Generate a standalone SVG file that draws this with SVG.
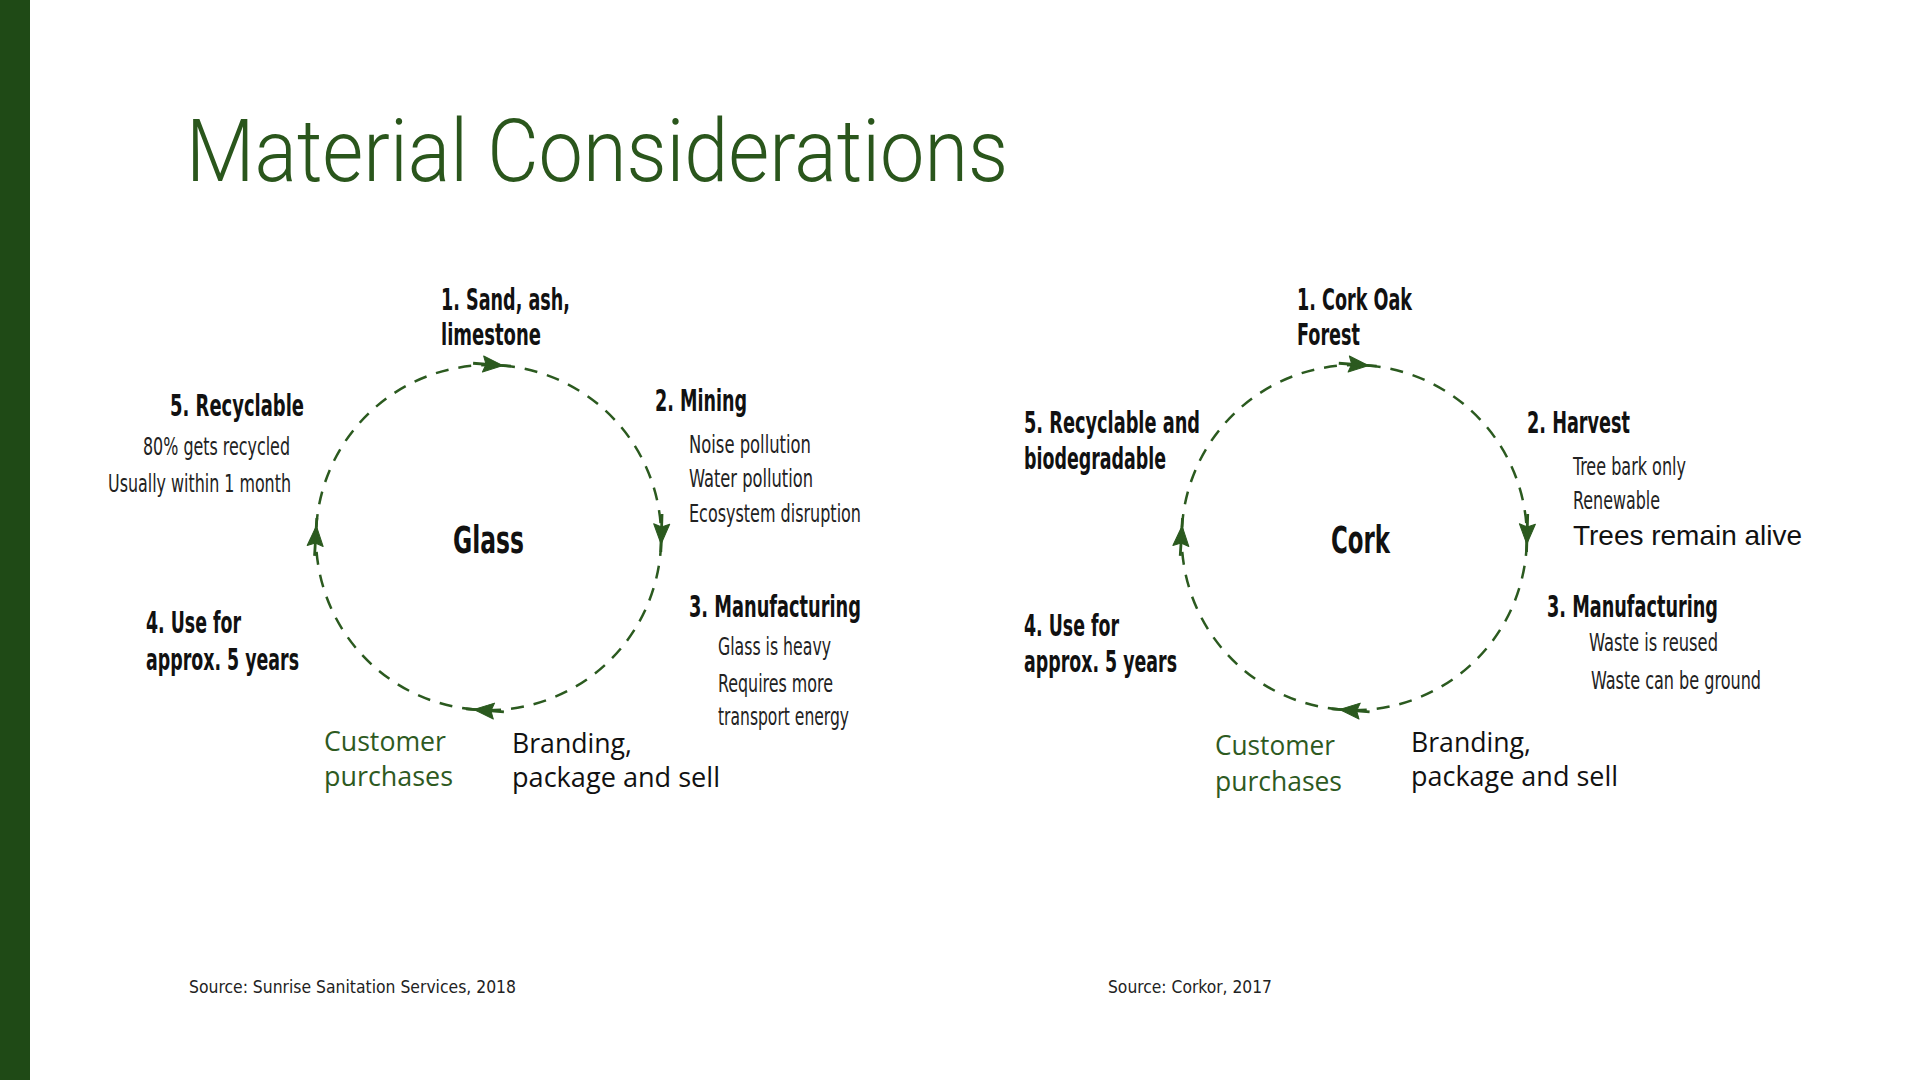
<svg xmlns="http://www.w3.org/2000/svg" width="1920" height="1080" viewBox="0 0 1920 1080">
<style>
.title{font-family:Roboto,"Liberation Sans",sans-serif;font-weight:300;font-size:88px;fill:#2a561c}
.b{font-family:"DejaVu Sans Condensed","Liberation Sans",sans-serif;font-weight:bold;font-size:30px;fill:#111}
.l{font-family:"DejaVu Sans Condensed","Liberation Sans",sans-serif;font-weight:300;font-size:25px;fill:#222}
.c{font-family:"DejaVu Sans Condensed","Liberation Sans",sans-serif;font-weight:bold;font-size:37px;fill:#111}
.g{font-family:"Open Sans","Liberation Sans",sans-serif;font-size:27px;fill:#2e5a1f}
.k{font-family:"Open Sans","Liberation Sans",sans-serif;font-size:27px;fill:#111}
.r{font-family:"Liberation Sans",Arial,sans-serif;font-size:28px;fill:#111}
.s{font-family:"DejaVu Sans Condensed","Liberation Sans",sans-serif;font-size:17px;fill:#222}
.arc{fill:none;stroke:#2b5a1f;stroke-width:2.5;stroke-dasharray:13 10;marker-end:url(#ah)}
</style>
<defs>
<marker id="ah" markerUnits="userSpaceOnUse" viewBox="0 0 22 18" markerWidth="22" markerHeight="18" refX="19" refY="9" orient="auto" overflow="visible">
<path d="M0,1 L20,9 L0,17 L3,9 Z" fill="#2b5a1f" stroke="#2b5a1f" stroke-width="1" stroke-linejoin="round"/>
<path d="M-10,9 L28,9" stroke="#2b5a1f" stroke-width="2.8"/>
</marker>
</defs>
<rect width="1920" height="1080" fill="#fff"/>
<rect x="0" y="0" width="30" height="1080" fill="#1f4a16"/>
<text class="title" x="186" y="181" textLength="822" lengthAdjust="spacingAndGlyphs">Material Considerations</text>

<g id="connectors">
<g id="glass-cycle">
<path class="arc" d="M316.3,527 A172.6,172.6 0 0 1 502,365.5"/>
<path class="arc" d="M502,365.5 A172.6,172.6 0 0 1 661.1,543"/>
<path class="arc" d="M661.1,543 A172.6,172.6 0 0 1 475,709.6"/>
<path class="arc" d="M475,709.6 A172.6,172.6 0 0 1 316.3,527"/>
</g>
<g id="cork-cycle" transform="translate(865.7,0)">
<path class="arc" d="M316.3,527 A172.6,172.6 0 0 1 502,365.5"/>
<path class="arc" d="M502,365.5 A172.6,172.6 0 0 1 661.1,543"/>
<path class="arc" d="M661.1,543 A172.6,172.6 0 0 1 475,709.6"/>
<path class="arc" d="M475,709.6 A172.6,172.6 0 0 1 316.3,527"/>
</g>
</g>

<g id="glass">
<g id="glass-center"><text class="c" x="453" y="553" textLength="71" lengthAdjust="spacingAndGlyphs">Glass</text></g>
<g id="glass-1">
<text class="b" x="441" y="310" textLength="129" lengthAdjust="spacingAndGlyphs">1. Sand, ash,</text>
<text class="b" x="441" y="345" textLength="100" lengthAdjust="spacingAndGlyphs">limestone</text>
</g>
<g id="glass-2">
<text class="b" x="655" y="411" textLength="92" lengthAdjust="spacingAndGlyphs">2. Mining</text>
<text class="l" x="689" y="453" textLength="122" lengthAdjust="spacingAndGlyphs">Noise pollution</text>
<text class="l" x="689" y="487" textLength="124" lengthAdjust="spacingAndGlyphs">Water pollution</text>
<text class="l" x="689" y="522" textLength="172" lengthAdjust="spacingAndGlyphs">Ecosystem disruption</text>
</g>
<g id="glass-3">
<text class="b" x="689" y="617" textLength="172" lengthAdjust="spacingAndGlyphs">3. Manufacturing</text>
<text class="l" x="718" y="655" textLength="113" lengthAdjust="spacingAndGlyphs">Glass is heavy</text>
<text class="l" x="718" y="692" textLength="115" lengthAdjust="spacingAndGlyphs">Requires more</text>
<text class="l" x="718" y="725" textLength="131" lengthAdjust="spacingAndGlyphs">transport energy</text>
</g>
<g id="glass-sell">
<text class="k" x="512" y="753" textLength="120" lengthAdjust="spacingAndGlyphs">Branding,</text>
<text class="k" x="512" y="787" textLength="208" lengthAdjust="spacingAndGlyphs">package and sell</text>
</g>
<g id="glass-customer">
<text class="g" x="324" y="751" textLength="122" lengthAdjust="spacingAndGlyphs">Customer</text>
<text class="g" x="324" y="786" textLength="129" lengthAdjust="spacingAndGlyphs">purchases</text>
</g>
<g id="glass-4">
<text class="b" x="146" y="633" textLength="95" lengthAdjust="spacingAndGlyphs">4. Use for</text>
<text class="b" x="146" y="670" textLength="153" lengthAdjust="spacingAndGlyphs">approx. 5 years</text>
</g>
<g id="glass-5">
<text class="b" x="170" y="416" textLength="134" lengthAdjust="spacingAndGlyphs">5. Recyclable</text>
<text class="l" x="143" y="455" textLength="147" lengthAdjust="spacingAndGlyphs">80% gets recycled</text>
<text class="l" x="108" y="492" textLength="183" lengthAdjust="spacingAndGlyphs">Usually within 1 month</text>
</g>
</g>

<g id="cork">
<g id="cork-center"><text class="c" x="1331" y="553" textLength="59" lengthAdjust="spacingAndGlyphs">Cork</text></g>
<g id="cork-1">
<text class="b" x="1297" y="310" textLength="115" lengthAdjust="spacingAndGlyphs">1. Cork Oak</text>
<text class="b" x="1297" y="345" textLength="63" lengthAdjust="spacingAndGlyphs">Forest</text>
</g>
<g id="cork-2">
<text class="b" x="1527" y="433" textLength="103" lengthAdjust="spacingAndGlyphs">2. Harvest</text>
<text class="l" x="1573" y="475" textLength="113" lengthAdjust="spacingAndGlyphs">Tree bark only</text>
<text class="l" x="1573" y="509" textLength="87" lengthAdjust="spacingAndGlyphs">Renewable</text>
<text class="r" x="1573" y="545" textLength="229" lengthAdjust="spacingAndGlyphs">Trees remain alive</text>
</g>
<g id="cork-3">
<text class="b" x="1547" y="617" textLength="171" lengthAdjust="spacingAndGlyphs">3. Manufacturing</text>
<text class="l" x="1589" y="651" textLength="129" lengthAdjust="spacingAndGlyphs">Waste is reused</text>
<text class="l" x="1591" y="689" textLength="170" lengthAdjust="spacingAndGlyphs">Waste can be ground</text>
</g>
<g id="cork-sell">
<text class="k" x="1411" y="752" textLength="120" lengthAdjust="spacingAndGlyphs">Branding,</text>
<text class="k" x="1411" y="786" textLength="207" lengthAdjust="spacingAndGlyphs">package and sell</text>
</g>
<g id="cork-customer">
<text class="g" x="1215" y="755" textLength="120" lengthAdjust="spacingAndGlyphs">Customer</text>
<text class="g" x="1215" y="791" textLength="127" lengthAdjust="spacingAndGlyphs">purchases</text>
</g>
<g id="cork-4">
<text class="b" x="1024" y="636" textLength="95" lengthAdjust="spacingAndGlyphs">4. Use for</text>
<text class="b" x="1024" y="672" textLength="153" lengthAdjust="spacingAndGlyphs">approx. 5 years</text>
</g>
<g id="cork-5">
<text class="b" x="1024" y="433" textLength="176" lengthAdjust="spacingAndGlyphs">5. Recyclable and</text>
<text class="b" x="1024" y="469" textLength="142" lengthAdjust="spacingAndGlyphs">biodegradable</text>
</g>
</g>

<text class="s" x="189" y="993" textLength="327" lengthAdjust="spacingAndGlyphs">Source: Sunrise Sanitation Services, 2018</text>
<text class="s" x="1108" y="993" textLength="164" lengthAdjust="spacingAndGlyphs">Source: Corkor, 2017</text>
</svg>
